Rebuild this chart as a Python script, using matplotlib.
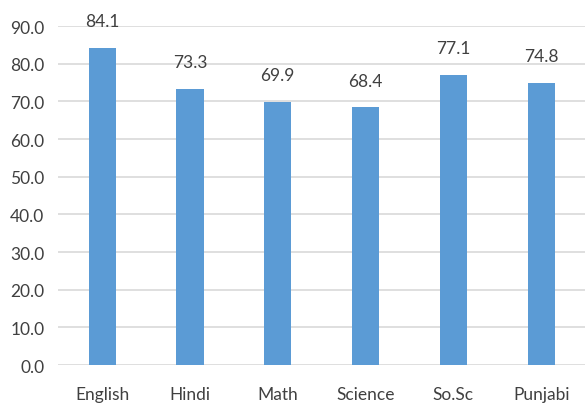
import numpy as np
import matplotlib.pyplot as plt

subjects = ['English', 'Hindi', 'Math', 'Science', 'So.Sc', 'Punjabi']
scores = [84.1, 73.3, 69.9, 68.4, 77.1, 74.8]

plt.rcParams['font.family'] = ['Lato', 'DejaVu Sans']

fig = plt.figure(figsize=(5.88, 4.10), dpi=100)
ax = fig.add_axes([0.099, 0.107, 0.896, 0.827])

x = np.arange(len(subjects))
bars = ax.bar(x, scores, width=0.31, color='#5B9BD5', zorder=3)
for b, v in zip(bars, scores):
    ax.text(b.get_x() + b.get_width() / 2, v + 5.0, '%.1f' % v,
            ha='center', va='bottom', fontsize=12.5, color='#404040')

ax.set_xlim(-0.5, len(subjects) - 0.5)
ax.set_ylim(0, 90)
ax.set_yticks(np.arange(0, 91, 10))
ax.set_yticklabels(['%.1f' % t for t in np.arange(0, 91, 10)])
ax.set_xticks(x)
ax.set_xticklabels(subjects)
ax.tick_params(axis='both', length=0, labelsize=12.5, colors='#404040')
ax.tick_params(axis='x', pad=15)
ax.tick_params(axis='y', pad=10)
ax.grid(axis='y', color='#D9D9D9', linewidth=1.2, zorder=0)
for s in ax.spines.values():
    s.set_visible(False)

plt.savefig('out.png', dpi=100)
